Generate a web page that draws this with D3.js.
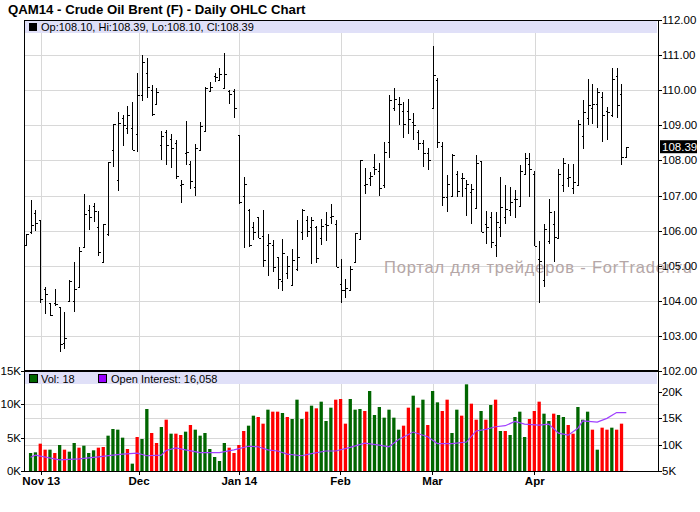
<!DOCTYPE html>
<html><head><meta charset="utf-8">
<script src="https://cdn.jsdelivr.net/npm/d3@7"></script>
<style>body{margin:0;background:#fff}svg{display:block}text{font-family:"Liberation Sans",Arial,sans-serif}</style>
</head><body><svg id="c" width="700" height="512"></svg>
<script>
const high=[105.9,106.86,106.6,106.29,104.4,103.95,104.33,103.83,103.69,104.59,105.1,105.52,107.03,106.74,106.79,106.57,106.19,107.95,109.05,109.38,109.29,109.54,109.67,110.5,111.0,110.93,110.14,110.05,108.84,108.88,108.74,108.57,107.43,109.11,107.97,108.48,109.1,110.08,110.22,110.5,110.62,111.05,110.0,110.02,108.73,107.54,106.62,106.24,106.4,106.6,105.89,105.73,105.26,105.76,105.29,105.48,106.29,106.62,106.43,106.4,106.14,106.33,106.52,106.76,106.31,105.19,104.62,105.0,105.92,108.02,107.79,107.67,108.19,107.92,108.52,109.86,110.05,109.81,109.67,109.76,109.35,108.86,108.57,108.36,111.26,110.36,108.52,107.59,108.19,107.71,107.65,107.45,107.33,108.14,107.98,106.55,106.52,106.52,107.52,107.29,107.24,107.16,107.86,108.22,108.22,107.69,105.71,106.19,106.9,106.57,107.76,108.07,107.9,107.9,109.14,109.71,110.33,110.19,110.05,109.95,109.52,110.62,110.62,110.17,108.39];
const low=[105.6,105.9,106.0,103.95,103.62,103.57,103.86,102.55,102.62,104.0,103.67,104.36,105.52,106.02,106.24,105.29,105.11,105.86,107.81,107.12,108.4,108.74,108.29,108.24,109.7,109.79,109.26,109.62,108.02,107.88,107.79,107.48,106.8,107.88,107.19,107.0,108.26,108.85,109.95,110.24,110.29,110.05,109.62,109.22,106.76,105.5,105.52,105.74,105.79,104.95,104.7,104.83,104.33,104.29,104.62,104.43,104.86,105.73,105.83,105.05,105.08,105.59,105.7,106.2,104.95,103.95,104.07,104.3,105.1,105.76,107.05,107.26,107.57,107.0,107.22,108.08,109.4,109.02,108.64,108.74,108.57,108.31,107.81,107.73,109.48,108.36,106.71,106.52,106.95,106.95,106.95,106.43,106.19,106.64,105.95,105.62,105.5,105.24,105.81,106.19,106.43,106.36,106.67,107.59,106.95,105.57,103.95,104.38,105.62,105.1,105.78,107.1,107.24,107.05,107.26,108.33,109.0,109.03,108.93,108.52,108.59,109.24,109.22,107.88,108.1];
const open=[105.6,105.95,106.5,106.29,104.35,103.95,103.95,103.83,102.8,104.0,104.0,104.4,105.52,106.6,106.7,106.1,105.11,105.9,108.29,107.43,109.2,108.93,108.93,108.74,109.86,110.5,110.0,109.62,108.43,108.8,108.6,108.5,107.3,108.2,107.9,107.24,108.3,108.85,109.97,110.4,110.3,110.05,109.98,109.98,108.73,107.0,106.6,106.1,106.4,105.86,105.6,105.6,105.26,104.55,104.8,104.45,104.9,105.95,106.3,106.1,106.1,105.8,106.2,106.4,106.2,104.48,104.3,104.3,105.1,105.76,107.3,107.5,107.8,107.7,107.3,108.52,109.5,109.6,109.4,109.4,109.1,108.8,108.5,108.2,109.48,110.3,108.4,106.95,107.0,107.6,107.5,107.2,107.1,106.64,107.98,106.2,106.4,105.6,106.1,106.4,106.6,106.9,106.7,107.6,107.9,107.6,105.2,104.6,105.7,106.2,105.8,107.3,107.5,107.2,107.3,108.7,109.2,109.5,109.6,109.8,109.4,109.3,110.4,109.9,108.1];
const close=[105.9,106.17,106.23,104.05,104.2,103.6,103.92,102.76,102.95,104.55,104.33,105.43,106.48,106.4,106.55,105.4,106.19,107.95,109.05,109.07,109.0,109.3,108.29,109.86,110.79,110.1,109.33,109.95,108.7,108.45,108.36,107.55,107.33,108.25,107.4,108.36,108.98,110.05,110.1,110.38,110.45,110.45,109.9,109.5,106.81,107.33,105.6,105.96,105.79,105.15,105.66,104.95,104.62,105.36,104.98,105.17,105.26,106.59,106.0,106.31,105.22,106.14,106.17,106.41,104.95,104.3,104.36,104.9,105.92,108.02,107.33,107.55,107.76,107.22,108.24,109.71,109.76,109.62,109.05,109.19,109.0,108.5,108.21,108.0,110.43,108.52,106.97,107.33,108.14,107.12,107.5,107.33,107.19,107.92,105.95,106.1,105.67,106.24,106.67,106.62,106.81,106.9,107.71,108.07,107.76,105.57,105.14,106.05,106.52,105.81,107.62,107.93,107.52,107.38,109.05,109.38,109.57,109.62,109.95,109.29,109.38,110.33,109.57,108.1,108.39];
const volume=[0,2.7,2.8,4.1,3.2,3.2,2.7,3.9,3.2,2.9,4.2,3.5,3.8,2.7,3.1,3.5,3.6,5.3,6.3,6.2,5.0,3.3,1.1,5.1,4.8,9.3,5.7,4.2,6.6,7.7,5.6,5.6,5.4,5.9,6.9,6.2,5.3,5.7,3.3,2.1,1.5,4.2,3.5,2.7,3.9,6.0,6.8,8.3,8.1,7.1,9.2,8.9,8.9,8.7,8.1,7.8,10.7,7.8,8.9,9.8,9.4,10.4,7.5,9.5,10.7,10.8,7.1,10.8,
9.2,9.3,9.0,12.0,8.4,9.6,8.0,9.2,8.0,6.2,6.8,9.5,11.3,9.5,10.7,6.9,12.0,10.3,9.0,10.7,5.7,9.2,8.3,13.0,10.1,7.7,9.0,7.7,9.9,10.7,6.0,6.0,5.4,8.1,8.9,5.1,7.8,9.0,10.4,8.6,7.5,8.6,8.4,8.1,6.9,5.6,9.6,7.7,8.9,6.2,3.2,6.5,6.2,6.5,6.2,7.1,0.018];
const volDir="ggrrgrgrggrgggrrggggrgrggrrgrgrrgrgggggggrrrrggrrgrrgrgggrgrgggrrrg"+"ggrgggggggrrgrgrggrrggrgrrgrgrgrggggrrrggrggrrgggrgrrgrrr";
const oiIdx=[1,2,7,11,15,18,20,23,25,28,29,31,33,36,40,43,46,48,50,52,54,57,59,62,64,67,70,73,75,77,80,83,85,88,91,93,95,97,99,101,103,106,108,110,112,114,115,118,120,122,124];
const oiVal=[7.6,8.0,7.1,7.3,7.7,8.0,8.2,8.4,7.9,8.0,8.9,9.4,9.0,8.5,8.5,9.0,9.7,9.6,9.0,8.8,8.2,7.9,8.3,8.8,8.8,9.5,10.3,9.9,9.6,11.0,12.4,11.5,10.2,10.2,10.5,12.6,12.9,13.4,13.6,14.4,13.9,13.7,13.9,12.2,11.8,13.1,14.5,14.3,15.0,16.1,16.1];
const monthLabels=["Nov 13","Dec","Jan 14","Feb","Mar","Apr"];
const monthIdx=[3.2,23.4,44.1,65,84,105.1];
const priceTicks=[102,103,104,105,106,107,108,109,110,111,112];
const volTicksL=[0,5,10,15], oiTicks=[5,10,15,20];

const svg=d3.select("#c");
const L=24,R=658;
const x=d3.scaleLinear().domain([0,124]).range([25.7,626.3]);
const y=d3.scaleLinear().domain([102,112]).range([371,20]);
const yv=d3.scaleLinear().domain([0,15]).range([471,371]);
const yo=d3.scaleLinear().domain([5,20]).range([471,392]);
const grid="#d8d8d8";

svg.append("text").attr("x",8).attr("y",14).attr("font-size",13.2).attr("font-weight","bold").text("QAM14 - Crude Oil Brent (F) - Daily OHLC Chart");
const g=svg.append("g").attr("stroke",grid).attr("stroke-width",1).attr("shape-rendering","crispEdges");
priceTicks.slice(1,-1).forEach(t=>g.append("line").attr("x1",L).attr("x2",R).attr("y1",Math.round(y(t))+.5).attr("y2",Math.round(y(t))+.5));
[5,10].forEach(t=>g.append("line").attr("x1",L).attr("x2",R).attr("y1",Math.round(yv(t))+.5).attr("y2",Math.round(yv(t))+.5));
[10,15].forEach(t=>g.append("line").attr("x1",L).attr("x2",R).attr("y1",Math.round(yo(t))+.5).attr("y2",Math.round(yo(t))+.5));
monthIdx.forEach(m=>{const xx=Math.round(x(m))+.5;g.append("line").attr("x1",xx).attr("x2",xx).attr("y1",20).attr("y2",471);});
svg.append("rect").attr("x",L+1).attr("y",21).attr("width",R-L-2).attr("height",12).attr("fill","#e0e0f8");
svg.append("rect").attr("x",L+1).attr("y",372).attr("width",R-L-2).attr("height",12).attr("fill","#e0e0f8");
svg.append("text").attr("x",384).attr("y",273).attr("font-size",16.5).attr("fill","#b4a6a6").attr("textLength",308).text("Портал для трейдеров - ForTrader.ru");
const ob=svg.append("g").attr("stroke","#000").attr("stroke-width",1).attr("shape-rendering","crispEdges");
high.forEach((h,i)=>{const xx=Math.round(x(i))+.5;
 ob.append("line").attr("x1",xx).attr("x2",xx).attr("y1",y(h)).attr("y2",y(low[i]));
 ob.append("line").attr("x1",xx-2).attr("x2",xx).attr("y1",Math.round(y(open[i]))+.5).attr("y2",Math.round(y(open[i]))+.5);
 ob.append("line").attr("x1",xx).attr("x2",xx+2).attr("y1",Math.round(y(close[i]))+.5).attr("y2",Math.round(y(close[i]))+.5);
});
svg.append("g").selectAll("rect").data(volume).join("rect")
 .attr("x",(d,i)=>x(i)-1.6).attr("width",3.3).attr("y",d=>yv(d)).attr("height",d=>471-yv(d))
 .attr("fill",(d,i)=>volDir[i-1]==="r"?"#ff0000":"#006600");
svg.append("path").datum(oiIdx.map((k,j)=>[k,oiVal[j]])).attr("fill","none").attr("stroke","#a040ff").attr("stroke-width",1.2)
 .attr("d",d3.line().x(d=>x(d[0])).y(d=>yo(d[1])));
const fr=svg.append("g").attr("stroke","#000").attr("shape-rendering","crispEdges");
fr.append("line").attr("x1",L).attr("x2",R).attr("y1",20.5).attr("y2",20.5);
fr.append("line").attr("x1",L).attr("x2",R).attr("y1",371).attr("y2",371).attr("stroke-width",2);
fr.append("line").attr("x1",L).attr("x2",R).attr("y1",471.5).attr("y2",471.5);
fr.append("line").attr("x1",L+.5).attr("x2",L+.5).attr("y1",20).attr("y2",472);
fr.append("line").attr("x1",R+.5).attr("x2",R+.5).attr("y1",20).attr("y2",472);
const fs=11.5;
priceTicks.forEach(t=>{fr.append("line").attr("x1",R).attr("x2",R+4).attr("y1",Math.round(y(t))+.5).attr("y2",Math.round(y(t))+.5);
 svg.append("text").attr("x",662).attr("y",y(t)+4).attr("font-size",fs).text(t.toFixed(2));});
oiTicks.forEach(t=>{fr.append("line").attr("x1",R).attr("x2",R+4).attr("y1",Math.round(yo(t))+.5).attr("y2",Math.round(yo(t))+.5);
 svg.append("text").attr("x",662).attr("y",yo(t)+4).attr("font-size",fs).text(t+"K");});
volTicksL.forEach(t=>{fr.append("line").attr("x1",L-3).attr("x2",L).attr("y1",Math.round(yv(t))+.5).attr("y2",Math.round(yv(t))+.5);
 svg.append("text").attr("x",L-3).attr("y",yv(t)+4).attr("font-size",fs).attr("text-anchor","end").text(t+"K");});
monthLabels.forEach((m,k)=>{const xx=x(monthIdx[k]);fr.append("line").attr("x1",xx).attr("x2",xx).attr("y1",471).attr("y2",475);
 svg.append("text").attr("x",xx).attr("y",485).attr("font-size",11.5).attr("font-weight","bold").attr("text-anchor","middle").text(m);});
const lp=close[close.length-1];
svg.append("rect").attr("x",660).attr("y",y(lp)-6.5).attr("width",37).attr("height",13).attr("fill","#000");
svg.append("text").attr("x",662).attr("y",y(lp)+4).attr("font-size",fs).attr("fill","#fff").text(lp.toFixed(2));
svg.append("rect").attr("x",29).attr("y",23).attr("width",8).attr("height",8).attr("fill","#000");
svg.append("text").attr("x",41).attr("y",31).attr("font-size",11).text(`Op:${open[124].toFixed(2)}, Hi:${high[124].toFixed(2)}, Lo:${low[124].toFixed(2)}, Cl:${close[124].toFixed(2)}`);
svg.append("rect").attr("x",29.5).attr("y",374.5).attr("width",8).attr("height",8).attr("fill","#006600").attr("stroke","#000");
svg.append("text").attr("x",41).attr("y",383).attr("font-size",11).text("Vol: 18");
svg.append("rect").attr("x",98.5).attr("y",374.5).attr("width",8).attr("height",8).attr("fill","#9900ff").attr("stroke","#000");
svg.append("text").attr("x",111).attr("y",383).attr("font-size",11).text("Open Interest: 16,058");
</script></body></html>
